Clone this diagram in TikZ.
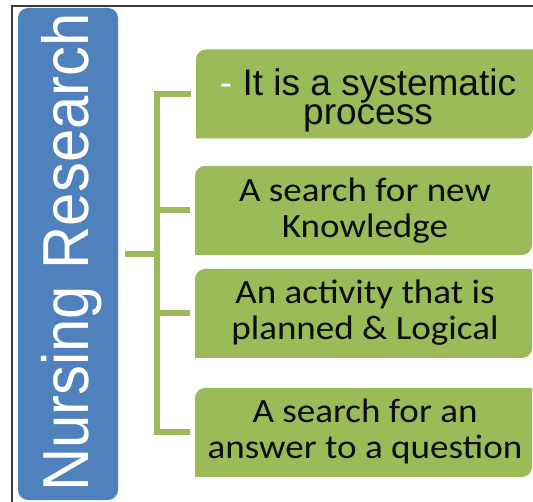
\documentclass[tikz,border=0pt]{standalone}
\usepackage{fontspec}
\newfontfamily\titlefont[FakeStretch=0.92]{Liberation Sans}
\newfontfamily\arialfont{Liberation Sans}
\newfontfamily\calfont[FakeStretch=1.09]{Carlito}
\definecolor{nblue}{HTML}{4F81BD}
\definecolor{ngreen}{HTML}{9BBB59}
\definecolor{nframe}{HTML}{3A3A3A}
\definecolor{ntext}{HTML}{0D0D0D}
\begin{document}
\begin{tikzpicture}[x=1pt,y=-1pt,
  titlebox/.style={fill=nblue, rounded corners=10pt, minimum width=100pt, minimum height=492pt, inner sep=0pt},
  gbox/.style={minimum width=337pt, minimum height=89pt, inner sep=0pt,
    path picture={\fill[ngreen] (path picture bounding box.south west)
      -- ([yshift=-10pt]path picture bounding box.north west)
      arc[start angle=180, end angle=90, radius=10pt]
      -- (path picture bounding box.north east)
      -- ([yshift=10pt]path picture bounding box.south east)
      arc[start angle=0, end angle=-90, radius=10pt]
      -- cycle;}},
  conn/.style={draw=ngreen, line width=6pt},
  atext/.style={anchor=north, inner sep=0pt, align=center, text=ntext, font=\arialfont\fontsize{37}{29}\selectfont},
  ctext/.style={anchor=north, inner sep=0pt, align=center, text=ntext, font=\calfont\fontsize{34}{36}\selectfont},
  ttext/.style={anchor=base west, rotate=90, inner sep=0pt, text=white, font=\titlefont\fontsize{65}{65}\selectfont}
]
\useasboundingbox (0,0) rectangle (533,502);
\fill[white] (0,0) rectangle (533,502);
\draw[nframe, line width=1.5pt] (12,502) -- (12,6) -- (533,6);

\node[titlebox] (title) at (68,254) {};
\node[ttext] (titletext) at (88,492) {Nursing Research};

\node[gbox] (b1) at (364.5,94) {};
\node[gbox] (b2) at (363.5,210.5) {};
\node[gbox] (b3) at (363.5,313.5) {};
\node[gbox] (b4) at (363.5,432.5) {};

\node[atext] (t1) at (368,68) {\textcolor{white}{-} It is a systematic\\process};
\node[ctext] (t2) at (365,178) {A search for new\\Knowledge};
\node[ctext] (t3) at (365,280) {An activity that is\\planned \& Logical};
\node[ctext] (t4) at (365,399) {A search for an\\answer to a question};

\coordinate (hub) at (157,254);
\foreach \b in {b1,b2,b3,b4}
  \draw[conn, shorten <=7pt, shorten >=5pt] (title.east) -- (hub) |- (\b.west);
\end{tikzpicture}
\end{document}
